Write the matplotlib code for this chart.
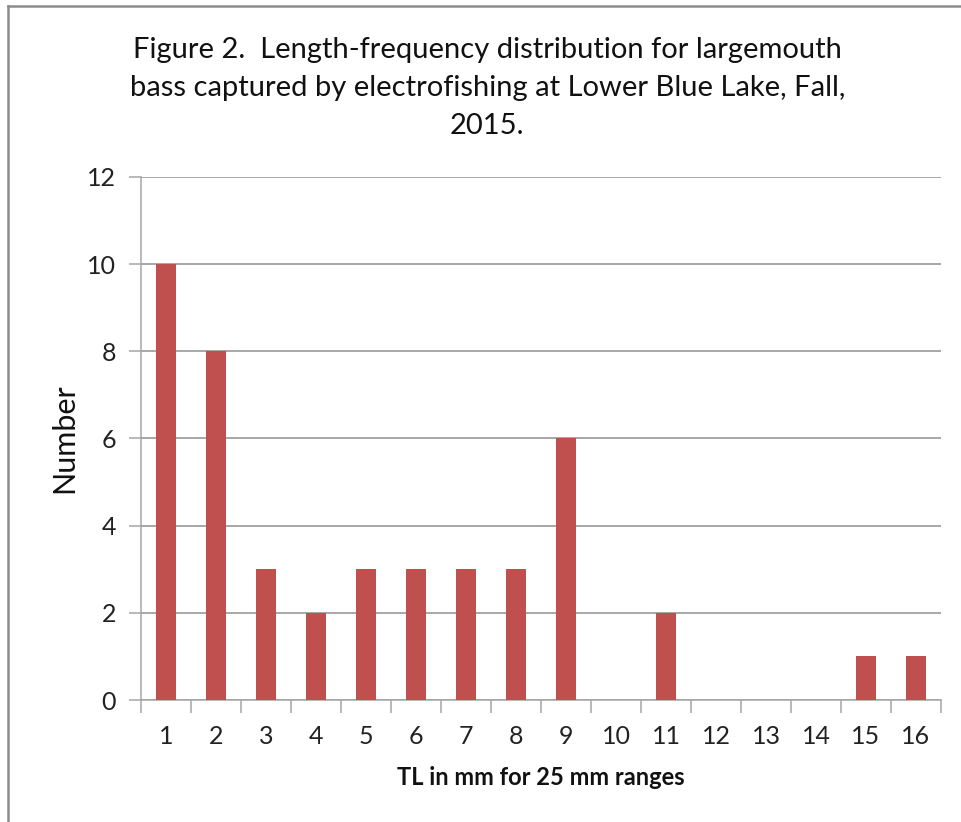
import matplotlib.pyplot as plt
from matplotlib.lines import Line2D
import numpy as np

# datos
categorias = [str(i) for i in range(1, 17)]
valores = [10, 8, 3, 2, 3, 3, 3, 3, 6, 0, 2, 0, 0, 0, 1, 1]
yticks = [0, 2, 4, 6, 8, 10, 12]

titulo = ("Figure 2.  Length-frequency distribution for largemouth\n"
          "bass captured by electrofishing at Lower Blue Lake, Fall,\n"
          "2015.")

plt.rcParams['font.family'] = ['Lato', 'DejaVu Sans']
gris = '#A6A6A6'
gris_grid = '#8F8F8F'

fig = plt.figure(figsize=(9.61, 8.22), dpi=100)
ax = fig.add_axes([0.1467, 0.1484, 0.8325, 0.6363])

x = np.arange(1, len(categorias) + 1)
ax.bar(x, valores, width=0.41, color='#C0504D', zorder=3)

ax.set_xlim(0.5, 16.5)
ax.set_ylim(0, 12)
ax.set_yticks(yticks)
ax.set_xticks(x)
ax.set_xticklabels(categorias)
ax.set_xticks(np.arange(0.5, 17, 1), minor=True)
ax.yaxis.grid(True, color=gris_grid, linewidth=1.1, zorder=0)

ax.tick_params(axis='x', which='major', length=0, pad=18, labelsize=18, labelcolor='#222222')
ax.tick_params(axis='x', which='minor', length=9, width=1.1, color=gris, direction='out')
ax.tick_params(axis='y', length=9, width=1.1, color=gris, direction='out', pad=9,
               labelsize=18, labelcolor='#222222')

for lado in ['top', 'right']:
    ax.spines[lado].set_visible(False)
for lado in ['left', 'bottom']:
    ax.spines[lado].set_color(gris)
    ax.spines[lado].set_linewidth(1.1)

ax.set_ylabel('Number', fontsize=22, color='#111111', labelpad=6)
ax.set_xlabel('TL in mm for 25 mm ranges', fontsize=17, fontweight='bold', color='#111111', labelpad=13)

fig.text(0.507, 0.955, titulo, ha='center', va='top', fontsize=21, linespacing=1.58, color='#111111')

# borde del area del grafico
fig.add_artist(Line2D([8 / 961, 8 / 961], [0, 1 - 6 / 822], transform=fig.transFigure, color='#8C8C8C', linewidth=1.8))
fig.add_artist(Line2D([8 / 961, 1], [1 - 6 / 822, 1 - 6 / 822], transform=fig.transFigure, color='#8C8C8C', linewidth=1.8))

fig.savefig('out.png', dpi=100)
